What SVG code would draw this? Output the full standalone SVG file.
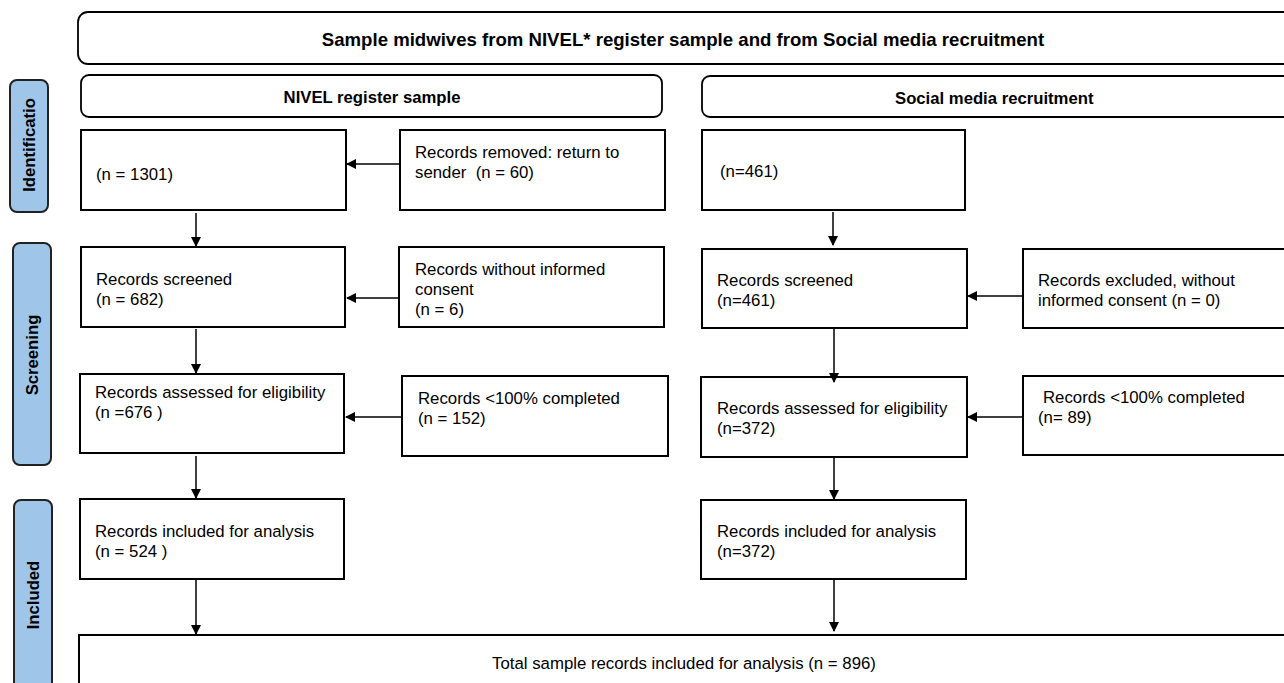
<svg xmlns="http://www.w3.org/2000/svg" width="1284" height="683" viewBox="0 0 1284 683">
<defs>
<marker id="ah" markerWidth="10" markerHeight="10" refX="9" refY="5" orient="auto" markerUnits="userSpaceOnUse">
<path d="M0,0 L10,5 L0,10 z" fill="#000"/>
</marker>
<style>
.box{fill:#fff;stroke:#000;stroke-width:2}
.hdr{fill:#fff;stroke:#000;stroke-width:1.8}
.side{fill:#9fc5e8;stroke:#222;stroke-width:2}
.t{font-family:"Liberation Sans",Arial,sans-serif;font-size:16.8px;fill:#000}
.b{font-family:"Liberation Sans",Arial,sans-serif;font-size:18.6px;font-weight:bold;fill:#000}
.s{font-family:"Liberation Sans",Arial,sans-serif;font-size:16.7px;font-weight:bold;fill:#000}
.c{stroke:#000;stroke-width:1.5;fill:none;marker-end:url(#ah)}
</style>
</defs>
<rect width="1284" height="683" fill="#fff"/>
<g id="title"><rect class="hdr" x="78" y="12" width="1220" height="52" rx="10"/><text class="b" x="683" y="46" text-anchor="middle">Sample midwives from NIVEL* register sample and from Social media recruitment</text></g>
<g id="hdr-nivel"><rect class="hdr" x="81" y="75" width="581" height="42" rx="8"/><text class="s" x="372" y="103" text-anchor="middle">NIVEL register sample</text></g>
<g id="hdr-social"><rect class="hdr" x="702" y="76" width="600" height="41" rx="8"/><text class="s" x="895" y="104">Social media recruitment</text></g>
<g id="side-ident"><rect class="side" x="10" y="80" width="38" height="132" rx="7"/><text class="s" transform="translate(35,145) rotate(-90)" text-anchor="middle">Identificatio</text></g>
<g id="side-screen"><rect class="side" x="13" y="243" width="38" height="222" rx="7"/><text class="s" transform="translate(38,355) rotate(-90)" text-anchor="middle">Screening</text></g>
<g id="side-incl"><rect class="side" x="14" y="500" width="38" height="200" rx="7"/><text class="s" transform="translate(39,595) rotate(-90)" text-anchor="middle">Included</text></g>
<g id="n1301"><rect class="box" x="81" y="130" width="265" height="80"/><text class="t" x="96" y="180">(n = 1301)</text></g>
<g id="removed"><rect class="box" x="400" y="130" width="265" height="80"/><text class="t" x="415" y="158">Records removed: return to</text><text class="t" x="415" y="178" xml:space="preserve">sender  (n = 60)</text></g>
<g id="screenL"><rect class="box" x="81" y="247" width="264" height="80"/><text class="t" x="96" y="285">Records screened</text><text class="t" x="96" y="305">(n = 682)</text></g>
<g id="consentL"><rect class="box" x="399" y="247" width="265" height="80"/><text class="t" x="415" y="275">Records without informed</text><text class="t" x="415" y="295">consent</text><text class="t" x="415" y="315">(n = 6)</text></g>
<g id="assessL"><rect class="box" x="80" y="374" width="264" height="79"/><text class="t" x="95" y="398">Records assessed for eligibility</text><text class="t" x="95" y="418" xml:space="preserve">(n =676 )</text></g>
<g id="incompL"><rect class="box" x="402" y="376" width="266" height="80"/><text class="t" x="418" y="404">Records &lt;100% completed</text><text class="t" x="418" y="424">(n = 152)</text></g>
<g id="inclL"><rect class="box" x="80" y="499" width="264" height="80"/><text class="t" x="95" y="537">Records included for analysis</text><text class="t" x="95" y="557" xml:space="preserve">(n = 524 )</text></g>
<g id="n461"><rect class="box" x="702" y="130" width="263" height="80"/><text class="t" x="720" y="177">(n=461)</text></g>
<g id="screenR"><rect class="box" x="702" y="249" width="265" height="79"/><text class="t" x="717" y="286">Records screened</text><text class="t" x="717" y="306">(n=461)</text></g>
<g id="consentR"><rect class="box" x="1023" y="249" width="275" height="79"/><text class="t" x="1038" y="286">Records excluded, without</text><text class="t" x="1038" y="306">informed consent (n = 0)</text></g>
<g id="assessR"><rect class="box" x="701" y="377" width="266" height="80"/><text class="t" x="717" y="414">Records assessed for eligibility</text><text class="t" x="717" y="434">(n=372)</text></g>
<g id="incompR"><rect class="box" x="1023" y="376" width="275" height="79"/><text class="t" x="1043" y="403">Records &lt;100% completed</text><text class="t" x="1038" y="423">(n= 89)</text></g>
<g id="inclR"><rect class="box" x="701" y="500" width="265" height="79"/><text class="t" x="717" y="537">Records included for analysis</text><text class="t" x="717" y="557">(n=372)</text></g>
<g id="total"><rect class="box" x="79" y="635" width="1220" height="60"/><text class="t" x="684" y="669" text-anchor="middle">Total sample records included for analysis (n = 896)</text></g>
<g id="connectors">
<line class="c" x1="400" y1="164" x2="347" y2="164"/>
<line class="c" x1="399" y1="298" x2="347" y2="298"/>
<line class="c" x1="402" y1="417" x2="346" y2="417"/>
<line class="c" x1="1023" y1="296" x2="968" y2="296"/>
<line class="c" x1="1023" y1="417" x2="968" y2="417"/>
<line class="c" x1="196" y1="213" x2="196" y2="246"/>
<line class="c" x1="196" y1="329" x2="196" y2="373"/>
<line class="c" x1="196" y1="456" x2="196" y2="498"/>
<line class="c" x1="196" y1="580" x2="196" y2="634"/>
<line class="c" x1="833" y1="212" x2="833" y2="245"/>
<line class="c" x1="834" y1="329" x2="834" y2="382"/>
<line class="c" x1="834" y1="458" x2="834" y2="499"/>
<line class="c" x1="834" y1="580" x2="834" y2="631"/>
</g>
</svg>
